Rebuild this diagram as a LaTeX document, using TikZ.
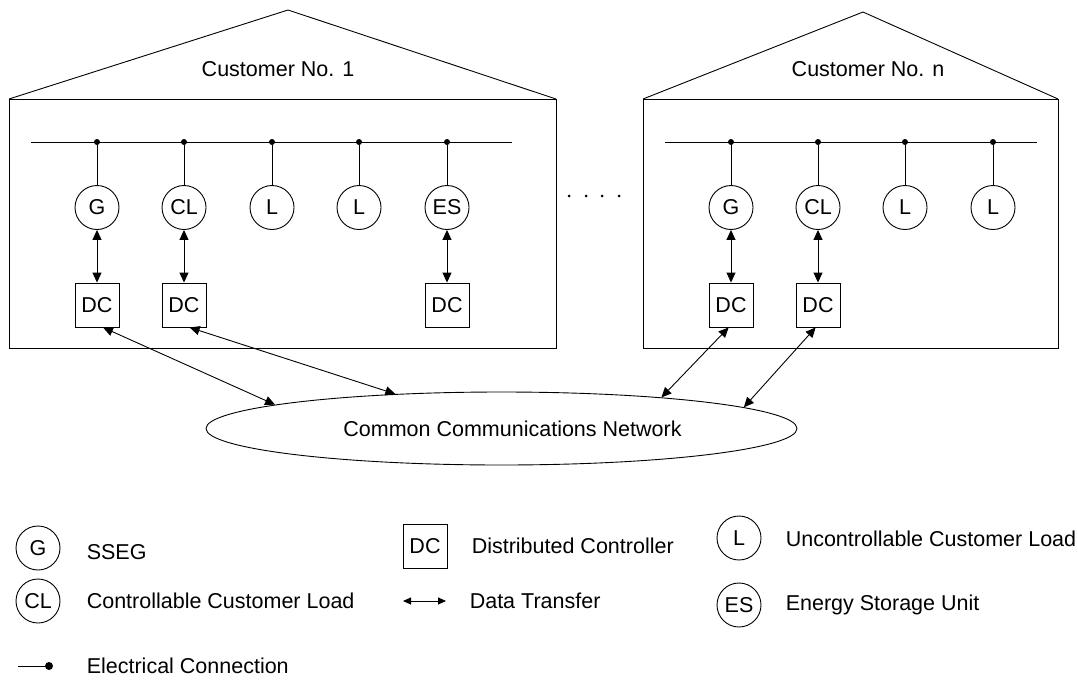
\documentclass[tikz,border=0pt]{standalone}
\usepackage{fontspec}
\setmainfont{Liberation Sans}
\usetikzlibrary{shapes.geometric,arrows.meta}

\begin{document}
\begin{tikzpicture}[x=1pt,y=-1pt,line width=0.9pt,
	font=\fontsize{21.5}{26}\selectfont,
	>={Triangle[length=10pt,width=9pt]},
	unit/.style={circle,draw,minimum size=44pt,inner sep=0pt},
	ctrl/.style={rectangle,draw,minimum size=44pt,inner sep=0pt},
	dot/.style={circle,fill,inner sep=0pt,minimum size=6pt}]
	
	\useasboundingbox (0,0) rectangle (1078,680);
	
	% the two houses
	\draw (9,99) -- (288,10) -- (556,99);
	\draw (9,99) rectangle (556,348);
	\draw (643,99) -- (863,12) -- (1058,99);
	\draw (643,99) rectangle (1058,348);
	\node (title 1) at (278,69) {Customer No. 1};
	\node (title n) at (868,69) {Customer No. n};
	\foreach \x in {569,586,602,619} \fill (\x,196) circle (1.5);
	
	% busbars
	\draw (31,142) -- (512,142);
	\draw (665,142) -- (1037,142);
	\begin{scope}[every node/.style={dot}]
	\node (bus 1a) at (97,142) {};
	\node (bus 1b) at (184,142) {};
	\node (bus 1c) at (272,142) {};
	\node (bus 1d) at (359,142) {};
	\node (bus 1e) at (447,142) {};
	\node (bus na) at (731,142) {};
	\node (bus nb) at (818,142) {};
	\node (bus nc) at (905,142) {};
	\node (bus nd) at (993,142) {};
	\end{scope}
	
	\begin{scope}[every node/.style={unit}]
	\node (gen 1) at (97,207.5) {G};
	\node (cload 1) at (184,207.5) {CL};
	\node (load 1a) at (272,207.5) {L};
	\node (load 1b) at (359,207.5) {L};
	\node (store 1) at (447,207.5) {ES};
	\node (gen n) at (731,207.5) {G};
	\node (cload n) at (818,207.5) {CL};
	\node (load na) at (905,207.5) {L};
	\node (load nb) at (993,207.5) {L};
	\end{scope}
	
	\begin{scope}[every node/.style={ctrl}]
	\node (dc 1a) at (97,305) {DC};
	\node (dc 1b) at (184,305) {DC};
	\node (dc 1e) at (447,305) {DC};
	\node (dc na) at (731,305) {DC};
	\node (dc nb) at (818,305) {DC};
	\end{scope}
	
	\node[ellipse,draw,minimum width=591pt,minimum height=73pt,
		label={[xshift=11pt]center:Common Communications Network}] (network) at (501.5,428.5) {};
	
	\begin{scope}
	\draw (bus 1a) -- (gen 1);
	\draw (bus 1b) -- (cload 1);
	\draw (bus 1c) -- (load 1a);
	\draw (bus 1d) -- (load 1b);
	\draw (bus 1e) -- (store 1);
	\draw (bus na) -- (gen n);
	\draw (bus nb) -- (cload n);
	\draw (bus nc) -- (load na);
	\draw (bus nd) -- (load nb);
	
	\draw [<->] (gen 1) -- (dc 1a);
	\draw [<->] (cload 1) -- (dc 1b);
	\draw [<->] (store 1) -- (dc 1e);
	\draw [<->] (gen n) -- (dc na);
	\draw [<->] (cload n) -- (dc nb);
	
	\draw [<->] (dc 1a.-75) -- (network.174);
	\draw [<->] (dc 1b.-76) -- (network.162);
	\draw [<->] (dc na.-96) -- (network.11);
	\draw [<->] (dc nb.-96) -- (network.5);
	\end{scope}
	
	% legend
	\node[unit] (key gen) at (38,548) {G};
	\node[anchor=west] (key gen text) at (83,552) {SSEG};
	\node[unit] (key cload) at (38,601) {CL};
	\node[anchor=west] (key cload text) at (83,601) {Controllable Customer Load};
	\coordinate (key wire) at (18,666);
	\node[dot,minimum size=8pt] (key dot) at (49,666) {};
	\draw (key wire) -- (key dot);
	\node[anchor=west] (key wire text) at (83,666) {Electrical Connection};
	
	\node[ctrl] (key dc) at (425,546) {DC};
	\node[anchor=west] (key dc text) at (468,546) {Distributed Controller};
	\coordinate (key data a) at (403,601);
	\coordinate (key data b) at (446,601);
	\draw [{Triangle[length=8pt,width=7pt]}-{Triangle[length=8pt,width=7pt]}] (key data a) -- (key data b);
	\node[anchor=west] (key data text) at (466,601) {Data Transfer};
	
	\node[unit] (key load) at (739,538) {L};
	\node[anchor=west] (key load text) at (782,539) {Uncontrollable Customer Load};
	\node[unit] (key store) at (739,605) {ES};
	\node[anchor=west] (key store text) at (782,605) {Energy Storage Unit};
	
\end{tikzpicture}
\end{document}
